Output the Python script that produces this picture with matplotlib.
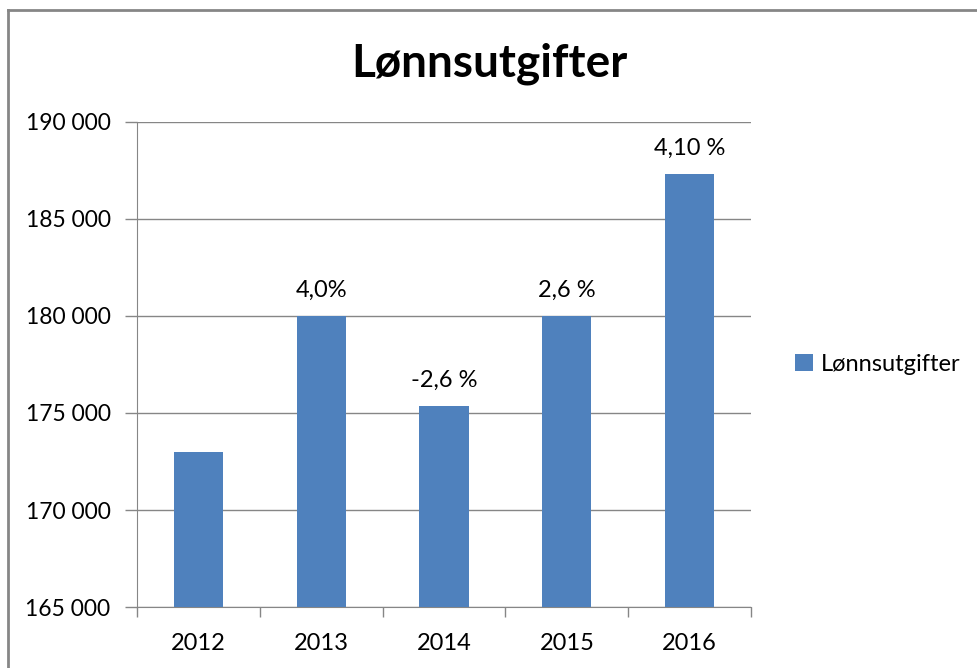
import matplotlib.pyplot as plt
from matplotlib.lines import Line2D

years = ["2012", "2013", "2014", "2015", "2016"]
values = [173000, 180000, 175350, 180000, 187300]
changes = ["", "4,0%", "-2,6 %", "2,6 %", "4,10 %"]
yticks = [165000, 170000, 175000, 180000, 185000, 190000]

plt.rcParams['font.family'] = ['Lato', 'DejaVu Sans']

fig = plt.figure(figsize=(9.78, 6.68), dpi=100)
ax = fig.add_axes([0.140, 0.0913, 0.628, 0.7261])

bar_color = "#4F81BD"
x = list(range(len(years)))
ax.bar(x, values, width=0.4, color=bar_color, label="Lønnsutgifter", zorder=3)

for i, v in enumerate(values):
    if changes[i]:
        ax.text(i, v + 800, changes[i], ha="center", va="bottom", fontsize=17)

ax.set_xlim(-0.5, len(years) - 0.5)
ax.set_ylim(165000, 190000)
ax.set_yticks(yticks)
ax.set_yticklabels([f"{t:,}".replace(",", " ") for t in yticks], fontsize=16.5)
ax.set_xticks(x)
ax.set_xticklabels(years, fontsize=17)
ax.tick_params(axis="x", length=0, pad=19)
ax.tick_params(axis="y", length=9, color="#868686", width=1, pad=10)

# category separator ticks on the x axis
ax.set_xticks([i - 0.5 for i in range(len(years) + 1)], minor=True)
ax.tick_params(axis="x", which="minor", length=7, color="#868686", width=1)

ax.grid(axis="y", color="#868686", linewidth=1, zorder=0)
for s in ["top", "right"]:
    ax.spines[s].set_visible(False)
ax.spines["left"].set_color("#868686")
ax.spines["bottom"].set_color("#868686")

fig.text(0.5, 0.905, "Lønnsutgifter", ha="center", va="center",
         fontsize=33, fontweight="bold")

ax.legend(loc="center left", bbox_to_anchor=(1.037, 0.5), frameon=False,
          fontsize=17, handlelength=0.75, handleheight=0.75, handletextpad=0.35)

# chart frame (left and top edges)
fig.add_artist(Line2D([8 / 978, 8 / 978], [0, 1 - 10 / 668], color="#868686", linewidth=2))
fig.add_artist(Line2D([8 / 978, 1], [1 - 10 / 668, 1 - 10 / 668], color="#868686", linewidth=2))

fig.savefig("out.png", dpi=100)
